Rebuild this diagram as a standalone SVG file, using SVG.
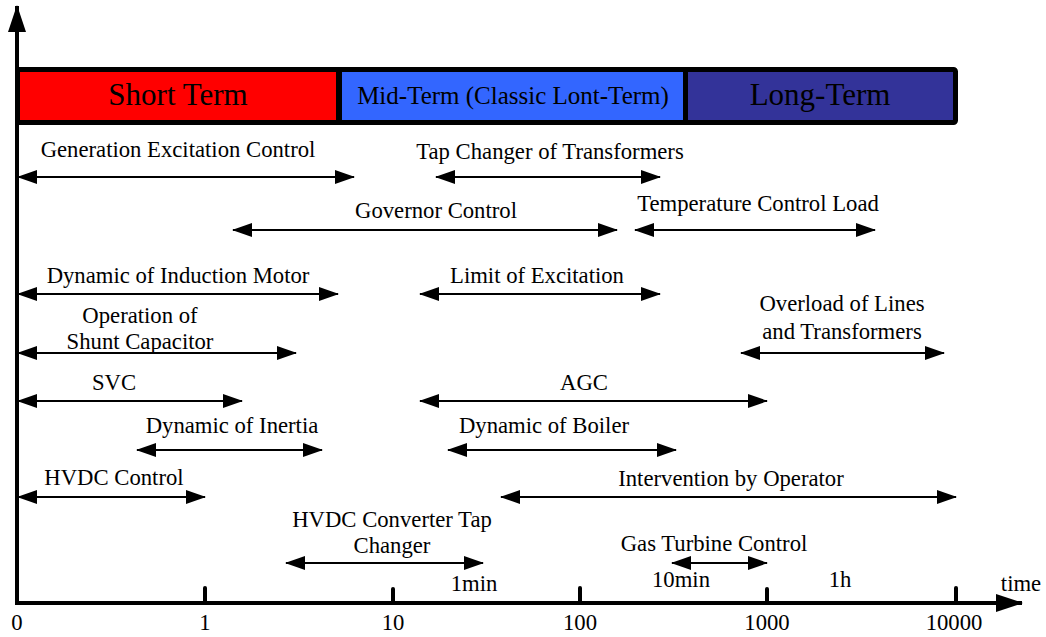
<svg xmlns="http://www.w3.org/2000/svg" width="1046" height="637" viewBox="0 0 1046 637">
<style>
text{font-family:'Liberation Serif','DejaVu Serif',serif;fill:#000}
.l{font-size:22.7px}
.b{font-size:31px}
.m{font-size:25px}
.c{stroke:#000;stroke-width:2.2;fill:none;marker-start:url(#ah);marker-end:url(#ah)}
.ax{stroke:#000;stroke-width:4;fill:none}
.tk{stroke:#000;stroke-width:4;stroke-linecap:round}
.bx{stroke:#000;stroke-width:5}
</style>
<defs>
<marker id="ah" markerUnits="userSpaceOnUse" markerWidth="20" markerHeight="14" viewBox="0 0 20 14" refX="19" refY="7" orient="auto-start-reverse">
<path d="M0,0 L20,7 L0,14 Z" fill="#000"/>
</marker>
<marker id="axh" markerUnits="userSpaceOnUse" markerWidth="27" markerHeight="18" viewBox="0 0 27 18" refX="26" refY="9" orient="auto">
<path d="M0,0 L27,9 L0,18 Z" fill="#000"/>
</marker>
</defs>
<g id="axes">
<line class="ax" x1="17" y1="603" x2="17" y2="6" marker-end="url(#axh)"/>
<line class="ax" x1="15" y1="603" x2="1022" y2="603" marker-end="url(#axh)"/>
<line class="tk" x1="205" y1="588" x2="205" y2="603"/>
<line class="tk" x1="393" y1="589" x2="393" y2="603"/>
<line class="tk" x1="580" y1="588" x2="580" y2="603"/>
<line class="tk" x1="767" y1="589" x2="767" y2="603"/>
<line class="tk" x1="956" y1="588" x2="956" y2="603"/>
<text class="l" x="17" y="630" text-anchor="middle">0</text>
<text class="l" x="205" y="630" text-anchor="middle">1</text>
<text class="l" x="393" y="630" text-anchor="middle">10</text>
<text class="l" x="580" y="630" text-anchor="middle">100</text>
<text class="l" x="767" y="630" text-anchor="middle">1000</text>
<text class="l" x="954" y="630" text-anchor="middle">10000</text>
<text class="l" x="1021" y="591" text-anchor="middle">time</text>
<text class="l" x="474" y="591" text-anchor="middle">1min</text>
<text class="l" x="681" y="587" text-anchor="middle">10min</text>
<text class="l" x="840" y="587" text-anchor="middle">1h</text>
</g>
<g id="bar-short">
<rect class="bx" x="17.5" y="69.5" width="321" height="53" fill="#ff0000"/>
<text class="b" x="178" y="105" text-anchor="middle">Short Term</text>
</g>
<g id="bar-mid">
<rect class="bx" x="339.5" y="69.5" width="346" height="53" fill="#3366ff"/>
<text class="m" x="513" y="104" text-anchor="middle">Mid-Term (Classic Lont-Term)</text>
</g>
<g id="bar-long">
<rect class="bx" x="685.5" y="69.5" width="270" height="53" rx="2" fill="#333399"/>
<text class="b" x="820" y="105" text-anchor="middle">Long-Term</text>
</g>
<g id="connectors">
<line class="c" x1="18" y1="177" x2="354" y2="177"/>
<line class="c" x1="436" y1="177" x2="660" y2="177"/>
<line class="c" x1="233" y1="230" x2="617" y2="230"/>
<line class="c" x1="635" y1="230" x2="875" y2="230"/>
<line class="c" x1="18" y1="294" x2="338" y2="294"/>
<line class="c" x1="420" y1="294" x2="660" y2="294"/>
<line class="c" x1="18" y1="353" x2="296" y2="353"/>
<line class="c" x1="741" y1="353" x2="944" y2="353"/>
<line class="c" x1="18" y1="401" x2="242" y2="401"/>
<line class="c" x1="420" y1="401" x2="767" y2="401"/>
<line class="c" x1="137" y1="450" x2="322" y2="450"/>
<line class="c" x1="448" y1="450" x2="676" y2="450"/>
<line class="c" x1="18" y1="497" x2="205" y2="497"/>
<line class="c" x1="501" y1="497" x2="956" y2="497"/>
<line class="c" x1="286" y1="563" x2="483" y2="563"/>
<line class="c" x1="672" y1="563" x2="767" y2="563"/>
</g>
<g id="gen-excitation"><text class="l" x="178" y="157" text-anchor="middle">Generation Excitation Control</text></g>
<g id="tap-changer"><text class="l" x="550" y="159" text-anchor="middle">Tap Changer of Transformers</text></g>
<g id="governor"><text class="l" x="436" y="218" text-anchor="middle">Governor Control</text></g>
<g id="temperature"><text class="l" x="758" y="211" text-anchor="middle">Temperature Control Load</text></g>
<g id="induction-motor"><text class="l" x="178" y="283" text-anchor="middle">Dynamic of Induction Motor</text></g>
<g id="limit-excitation"><text class="l" x="537" y="283" text-anchor="middle">Limit of Excitation</text></g>
<g id="shunt-capacitor"><text class="l" x="140" y="323" text-anchor="middle">Operation of</text><text class="l" x="140" y="349" text-anchor="middle">Shunt Capacitor</text></g>
<g id="overload"><text class="l" x="842" y="311" text-anchor="middle">Overload of Lines</text><text class="l" x="842" y="339" text-anchor="middle">and Transformers</text></g>
<g id="svc"><text class="l" x="114" y="390" text-anchor="middle">SVC</text></g>
<g id="agc"><text class="l" x="584" y="390" text-anchor="middle">AGC</text></g>
<g id="inertia"><text class="l" x="232" y="433" text-anchor="middle">Dynamic of Inertia</text></g>
<g id="boiler"><text class="l" x="544" y="433" text-anchor="middle">Dynamic of Boiler</text></g>
<g id="hvdc-control"><text class="l" x="114" y="485" text-anchor="middle">HVDC Control</text></g>
<g id="intervention"><text class="l" x="731" y="486" text-anchor="middle">Intervention by Operator</text></g>
<g id="hvdc-converter"><text class="l" x="392" y="527" text-anchor="middle">HVDC Converter Tap</text><text class="l" x="392" y="553" text-anchor="middle">Changer</text></g>
<g id="gas-turbine"><text class="l" x="714" y="551" text-anchor="middle">Gas Turbine Control</text></g>
</svg>
